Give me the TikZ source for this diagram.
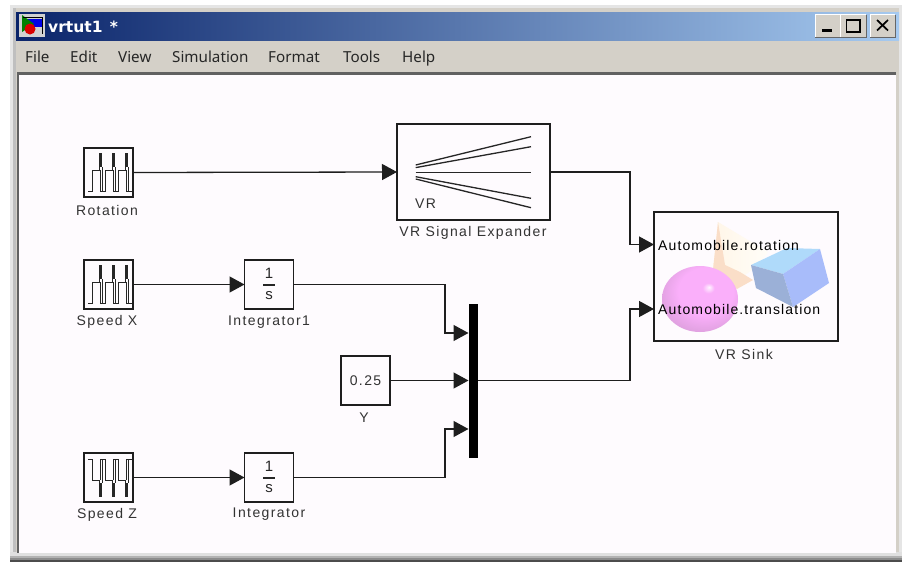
\documentclass[tikz,border=0pt]{standalone}
\usepackage{fontspec}
\setmainfont{Liberation Sans}
\newfontfamily\menufont{Noto Sans}
\newfontfamily\titlefont{DejaVu Sans}
\newfontfamily\blockfont[LetterSpace=10]{Liberation Sans}
\newfontfamily\portfont[LetterSpace=8]{Liberation Sans}
\usetikzlibrary{arrows.meta,calc}
\definecolor{chrome}{RGB}{212,208,200}
\definecolor{canvas}{RGB}{254,251,254}
\definecolor{wire}{RGB}{30,30,30}
\definecolor{sphA}{RGB}{255,245,255}
\definecolor{sphB}{RGB}{250,175,250}
\definecolor{sphC}{RGB}{222,160,222}
\definecolor{sphD}{RGB}{170,145,170}
\pgfdeclareradialshading{sphshade}{\pgfpoint{6bp}{9bp}}{color(0bp)=(sphA);color(4bp)=(sphB);color(18bp)=(sphB);color(30bp)=(sphC);color(50bp)=(sphD)}
\tikzset{
  block/.style={draw=wire,line width=1.3pt,fill=canvas,minimum width=49pt,minimum height=49pt,inner sep=0pt,outer sep=0pt},
  cap label/.style={font=\blockfont\fontsize{14}{14}\selectfont,text=black!80,inner sep=0pt},
  port label/.style={font=\portfont\fontsize{14}{14}\selectfont,text=black,inner sep=0pt,anchor=base west},
  frac part/.style={font=\fontsize{15}{15}\selectfont,text=black!85,inner sep=0pt},
  wirearrow/.style={draw=wire,line width=1.3pt,-{Triangle[length=15pt,width=16pt]}},
  menuitem/.style={font=\menufont\fontsize{15.2}{16}\selectfont,text=black!85,inner sep=0pt,anchor=base west},
  wavepath/.style={draw=black!85,line width=1pt},
  wave/.pic={
    \draw[wavepath] (4.3,43) -- (8.7,43);
    \foreach \k in {0,1,2}{
      \begin{scope}[xshift=\k*13pt]
        \draw[wavepath] (8.7,43) -- (8.7,22) -- (15.3,22) -- (15.3,18);
        \fill[black!85] (15,5.3) rectangle (17.8,19);
        \draw[wavepath] (16.6,22) -- (16.6,43) -- (18.8,43) -- (18.8,19);
        \draw[wavepath] (18.8,43) -- (21.7,43);
      \end{scope}
    }
  }
}
\begin{document}
\begin{tikzpicture}[x=1pt,y=-1pt]
\useasboundingbox (0,0) rectangle (902,562);
\fill[white] (0,0) rectangle (902,562);
% window frame
\fill[black!10] (10,5) rectangle (902,562);
\fill[chrome] (13,8) rectangle (899,556);
\fill[black!30] (10,555.5) rectangle (902,558);
\fill[black!12] (10,552) rectangle (902,555.5);
\fill[black!70] (10,559.5) rectangle (902,562);
\fill[black!45] (10,558) rectangle (902,559.5);
\fill[black!25] (13,8) rectangle (16,552);
% title bar
\shade[left color={rgb,255:red,10;green,36;blue,106},right color={rgb,255:red,166;green,202;blue,240}] (16,12) rectangle (899,40.5);
% title icon
\fill[black!18] (19,13.5) rectangle (45,37);
\fill[blue!90!black] (27,19) rectangle (43,27);
\fill[green!50!black] (22,15) -- (34,24) -- (22,32) -- cycle;
\draw[black,line width=.8pt] (23,17) -- (42,17) -- (42,34);
\fill[red!85!black] (30,29) circle (5.5);
\node[font=\titlefont\bfseries\fontsize{15.5}{16}\selectfont,text=white,anchor=base west,inner sep=0pt] (title) at (48,32.5) {vrtut1\hspace{2pt} *};
% title buttons
\foreach \xa/\wa in {815/25,840.5/25.5,870/25}{
  \fill[chrome] (\xa,14.5) rectangle ++(\wa,22.5);
  \draw[black!60,line width=.9pt] (\xa+\wa,14.5) -- ++(0,22.5) -- ++(-\wa,0);
  \draw[white,line width=.8pt] (\xa,37) -- ++(0,-22.5) -- ++(\wa,0);
}
\draw[black,line width=2.4pt] (822,30.5) -- (832,30.5);
\draw[black,line width=1.2pt] (846.5,20) rectangle (860,32);
\draw[black,line width=2pt] (846.5,19.5) -- (860,19.5);
\draw[black,line width=1.7pt] (877,20) -- (888,30.5) (888,20) -- (877,30.5);
% menu
\node[menuitem] (mfile) at (25,62) {File};
\node[menuitem] (medit) at (70,62) {Edit};
\node[menuitem] (mview) at (118,62) {View};
\node[menuitem] (msim) at (172,62) {Simulation};
\node[menuitem] (mfmt) at (268,62) {Format};
\node[menuitem] (mtool) at (343,62) {Tools};
\node[menuitem] (mhelp) at (402,62) {Help};
% canvas
\fill[canvas] (19,75) rectangle (896,552.5);
\draw[black!62,line width=2.4pt] (17.8,552.5) -- (17.8,73.6) -- (896,73.6);
% VR Sink graphic frame
\node[block,minimum width=184pt,minimum height=129pt] (sink) at (746,276.5) {};
% cone
\shade[left color={rgb,255:red,255;green,246;blue,232},right color={rgb,255:red,255;green,253;blue,248}] (718,222) -- (713,270) .. controls (722,285) and (745,285) .. (768,252) -- cycle;
\fill[fill={rgb,255:red,250;green,222;blue,200}] (718,222) -- (713,270) -- (737,289) -- (753,280) -- (740,272) -- (725,265) -- cycle;
% cube
\fill[fill={rgb,255:red,175;green,218;blue,250}] (751,265) -- (787,248) -- (820,249) -- (783,274) -- cycle;
\fill[fill={rgb,255:red,168;green,188;blue,250}] (783,274) -- (820,249) -- (829,283) -- (793,307) -- cycle;
\fill[fill={rgb,255:red,155;green,176;blue,215}] (751,265) -- (783,274) -- (793,307) -- (756,288) -- cycle;
% sphere
\shade[shading=sphshade] (700,299) ellipse (38 and 33);
% blocks
\node[block] (rot) at (108.5,172.5) {};
\node[block] (spx) at (108.5,284.5) {};
\node[block] (spz) at (108.5,477.5) {};
\pic at (rot.north west) {wave};
\pic at (spx.north west) {wave};
\pic[yscale=-1] at (spz.south west) {wave};
\node[block] (int1) at (269,284.5) {};
\node[frac part] (int1n) at (269,273.5) {1};
\node[frac part] (int1d) at (269,295.5) {s};
\draw[black!85,line width=1.1pt] (263,285) -- (275,285);
\node[block] (int0) at (269,477.5) {};
\node[frac part] (int0n) at (269,466.5) {1};
\node[frac part] (int0d) at (269,488.5) {s};
\draw[black!85,line width=1.1pt] (263,478) -- (275,478);
\node[block,font=\blockfont\fontsize{14}{14}\selectfont,text=black!80] (yb) at (365.5,380.5) {0.25};
\node[block,minimum width=153pt,minimum height=96pt] (exp) at (473.5,172) {};
\foreach \ya/\yb in {165/136.7,167.6/146.7,172.3/172.3,176.7/198.3,179/207.7}
  \draw[wavepath,line width=1.3pt] (415.7,\ya) -- (531,\yb);
\node[cap label,anchor=base west] (vr) at (415,208) {VR};
\fill[black] (468.5,303.5) rectangle (478,458);
\coordinate (muxin1) at (468.5,333);
\coordinate (muxin2) at (468.5,380.5);
\coordinate (muxin3) at (468.5,429);
\coordinate (muxout) at (478,380.5);
\coordinate (sinkin1) at (sink.west |- 0,244.5);
\coordinate (sinkin2) at (sink.west |- 0,309);
% captions
\node[cap label] (lrot) at (107,210) {Rotation};
\node[cap label] (lspx) at (107,322) {Speed X};
\node[cap label] (lint1) at (269,322) {Integrator1};
\node[cap label] (lspz) at (107,514.5) {Speed Z};
\node[cap label] (lint0) at (269,514.5) {Integrator};
\node[cap label] (ly) at (364,418) {Y};
\node[cap label] (lexp) at (473,233) {VR Signal Expander};
\node[cap label] (lsink) at (744,354) {VR Sink};
\node[port label] (p1) at (658,250) {Automobile.rotation};
\node[port label] (p2) at (658,314) {Automobile.translation};
% connectors
\draw[wirearrow] (rot.east) -- (exp.west);
\draw[wirearrow] (exp.east) -- (630,172) -- (630,244.5) -- (sinkin1);
\draw[wirearrow] (spx.east) -- (int1.west);
\draw[wirearrow] (spz.east) -- (int0.west);
\draw[wirearrow] (int1.east) -- (445,284.5) -- (445,333) -- (muxin1);
\draw[wirearrow] (int0.east) -- (445,477.5) -- (445,429) -- (muxin3);
\draw[wirearrow] (yb.east) -- (muxin2);
\draw[wirearrow] (muxout) -- (630,380.5) -- (630,309) -- (sinkin2);
\end{tikzpicture}
\end{document}
